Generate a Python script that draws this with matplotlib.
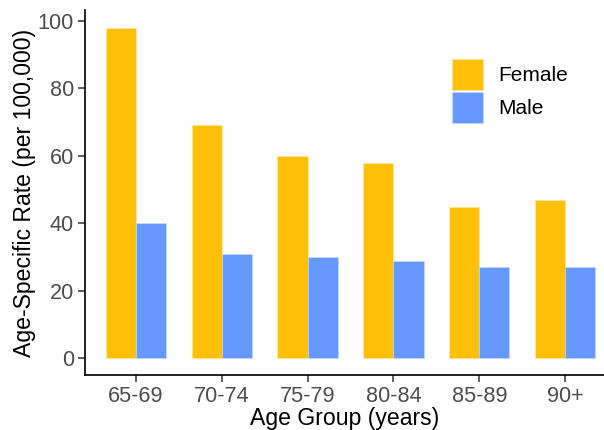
import matplotlib.pyplot as plt
import numpy as np
from matplotlib.patches import Patch

plt.rcParams['font.family'] = ['Liberation Sans', 'DejaVu Sans']

# datos
grupos = ["65-69", "70-74", "75-79", "80-84", "85-89", "90+"]
female = [98, 69, 60, 58, 45, 47]
male = [40, 31, 30, 29, 27, 27]

col_f = "#FFC107"
col_m = "#6699FF"

fig = plt.figure(figsize=(6.04, 4.30), dpi=100)
ax = fig.add_axes([85/604, 55/430, 519/604, 365/430])

x = np.arange(1, len(grupos) + 1)
w = 0.35
ax.bar(x - w/2, female, w, color=col_f, edgecolor="#FFE9A8", linewidth=0.4)
ax.bar(x + w/2, male, w, color=col_m, edgecolor="#C9DAFF", linewidth=0.4)

ax.set_xlim(0.41, 6.45)
ax.set_ylim(-4.9, 103.2)
ax.set_xticks(x)
ax.set_xticklabels(grupos)
ax.set_yticks([0, 20, 40, 60, 80, 100])

for s in ["top", "right"]:
    ax.spines[s].set_visible(False)
for s in ["left", "bottom"]:
    ax.spines[s].set_linewidth(1.2)
    ax.spines[s].set_color("black")

ax.tick_params(axis="both", labelsize=15.6, labelcolor="#4D4D4D", color="#333333",
               length=5, width=1.1, pad=3)

ax.set_xlabel("Age Group (years)", fontsize=16.6, labelpad=0)
ax.set_ylabel("Age-Specific Rate (per 100,000)", fontsize=16.6, labelpad=1)

handles = [Patch(facecolor=col_f, edgecolor="#FFE9A8", linewidth=0.4, label="Female"),
           Patch(facecolor=col_m, edgecolor="#C9DAFF", linewidth=0.4, label="Male")]
ax.legend(handles=handles, loc="upper left", bbox_to_anchor=(0.671, 0.918),
          frameon=False, fontsize=15, handlelength=1.5, handleheight=1.95,
          handletextpad=0.7, labelspacing=0.08)

fig.savefig("out.png", dpi=100)
